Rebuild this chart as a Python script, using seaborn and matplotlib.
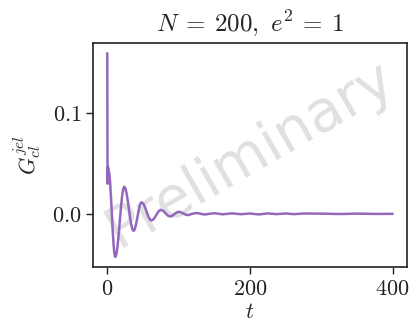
import matplotlib
matplotlib.use("Agg")
import matplotlib.pyplot as plt
import seaborn as sns
import pandas as pd

# data
t_vals = [0.0, 0.4, 1.0, 1.6, 2.8, 4.0, 5.2, 6.4, 7.6, 8.8, 10.0, 11.2,
          12.8, 14.35, 15.9, 17.5, 19.1, 20.65, 22.2, 23.8,
          25.4, 27.05, 28.7, 30.3, 31.9, 33.55, 35.2, 36.8,
          38.2, 39.6, 41.0, 42.4, 43.8, 45.2, 46.6, 48.0,
          49.75, 51.5, 53.25, 55.0, 56.75, 58.5, 60.25, 62.0,
          65.25, 68.5, 71.75, 75.0,
          78.25, 81.5, 84.75, 88.0,
          91.0, 94.0, 97.0, 100.0,
          103.25, 106.5, 109.75, 113.0,
          119.0, 125.0, 131.0, 137.0, 143.0, 150.0, 162.0, 175.0, 187.0,
          200.0, 212.0, 225.0, 237.0, 250.0, 262.0, 275.0, 300.0, 325.0,
          350.0, 375.0, 400.0]
g_vals = [0.160, 0.030, 0.047, 0.044, 0.0407, 0.0313, 0.0171, 0.0005, -0.0161, -0.0303, -0.0397, -0.043,
          -0.0403, -0.0328, -0.0214, -0.008, 0.0054, 0.0168, 0.0243, 0.027,
          0.0253, 0.0206, 0.0134, 0.005, -0.0034, -0.0106, -0.0153, -0.017,
          -0.0159, -0.0128, -0.0082, -0.0028, 0.0027, 0.0073, 0.0104, 0.0115,
          0.0108, 0.0088, 0.0059, 0.0024, -0.0011, -0.004, -0.006, -0.0067,
          -0.0051, -0.0014, 0.0024, 0.004,
          0.003, 0.0007, -0.0017, -0.0027,
          -0.002, -0.0004, 0.0013, 0.002,
          0.0015, 0.0004, -0.0008, -0.0013,
          0.0, 0.0009, 0.0, -0.0007, 0.0, 0.0006, -0.0005, 0.0005, -0.0004,
          0.0003, -0.0006, 0.0004, -0.0003, 0.0003, -0.0003, 0.0003, 0.0002, -0.0002,
          0.0002, -0.0001, 0.0]
x_ticks = [0, 200, 400]
x_ticklabels = ["$0$", "$200$", "$400$"]
y_ticks = [0.0, 0.1]
y_ticklabels = ["$0.0$", "$0.1$"]
title = r"$N\:=\:200,\ e^2\:=\:1$"
xlabel = r"$t$"
ylabel = r"$G_{cl}^{jel}$"
watermark = "Preliminary"

sns.set_style("ticks")
plt.rcParams["mathtext.fontset"] = "cm"
plt.rcParams["font.family"] = ["DejaVu Sans"]

df = pd.DataFrame({"t": t_vals, "G": g_vals})

fig = plt.figure(figsize=(4.12, 3.29), dpi=100)
ax = fig.add_axes([0.2257, 0.188, 0.762, 0.681])
sns.lineplot(data=df, x="t", y="G", ax=ax, color="#9467bd", linewidth=1.8, zorder=3)

ax.set_xticks(x_ticks)
ax.set_xticklabels(x_ticklabels)
ax.set_yticks(y_ticks)
ax.set_yticklabels(y_ticklabels)
ax.tick_params(labelsize=16, length=5, width=1.0, colors="#222222")
ax.set_xlabel(xlabel, fontsize=16, labelpad=2)
ax.set_ylabel(ylabel, fontsize=16, labelpad=6)
ax.set_title(title, fontsize=18, pad=8)
for s in ax.spines.values():
    s.set_linewidth(1.2)
    s.set_color("#222222")

ax.text(0.5, 0.5, watermark, transform=ax.transAxes, fontsize=41,
        color="#bbbbbb", alpha=0.45, rotation=30, ha="center", va="center",
        family="DejaVu Sans", zorder=1)

fig.savefig("out.png", dpi=100)
